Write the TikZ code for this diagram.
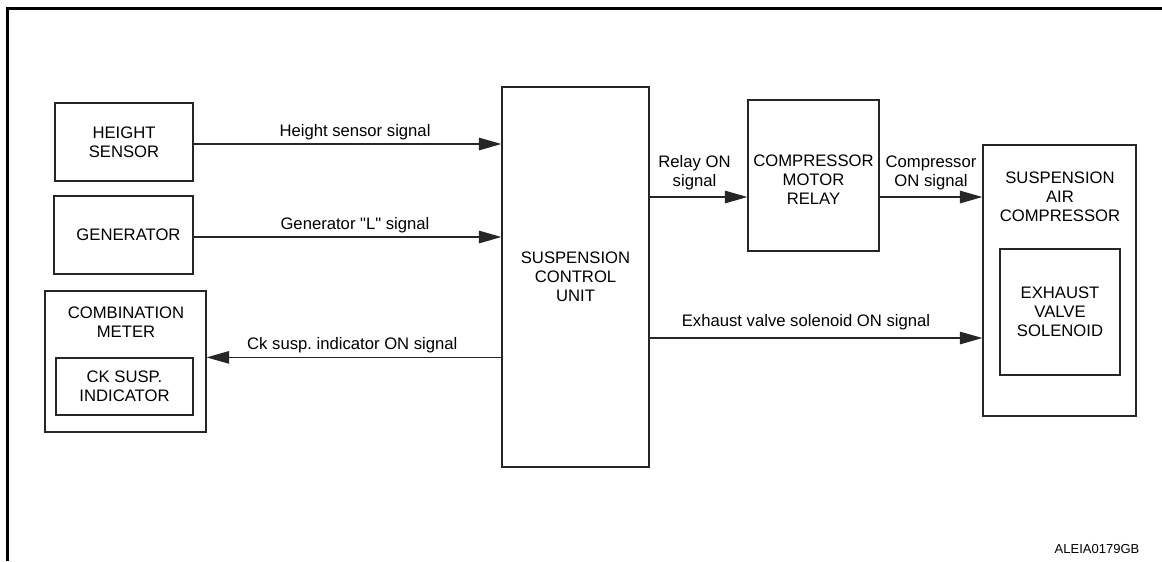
\documentclass[tikz,border=0pt]{standalone}
\usepackage{fontspec}
\setmainfont{Liberation Sans}
\usetikzlibrary{arrows.meta,calc}

\tikzset{
	blk/.style={draw=black!85, line width=0.75pt, inner sep=0pt, align=center, font=\fontsize{10}{11.4}\selectfont},
	sig/.style={draw=black!85, line width=0.75pt, -{Triangle[length=13.5pt,width=7.5pt]}},
	lbl/.style={inner sep=0pt, align=center, font=\fontsize{10}{11.4}\selectfont}
}

\begin{document}
\frenchspacing
\begin{tikzpicture}[x=0.6pt,y=-0.6pt]
	
	\useasboundingbox (0,0) rectangle (1162,561);
	
	% draw outline
	\draw[line width=1.8pt] (6,8.5) -- (1162,8.5);
	\draw[line width=1.8pt] (7.5,8.5) -- (7.5,561);
	
	% left side units
	\node[blk, minimum width=138*0.6pt, minimum height=78*0.6pt] (hs) at (124,142) {HEIGHT\\SENSOR};
	\node[blk, minimum width=139*0.6pt, minimum height=78*0.6pt] (gen) at (123.5,235) {\hspace*{6pt}GENERATOR};
	\node[blk, minimum width=161*0.6pt, minimum height=141*0.6pt] (cm) at (125.5,361.5) {};
	\node[lbl] (cmt) at (126,322) {COMBINATION\\METER};
	\node[blk, minimum width=137*0.6pt, minimum height=57*0.6pt] (ck) at (124.5,386.5) {CK SUSP.\\INDICATOR};
	
	% control unit
	\node[blk, minimum width=147*0.6pt, minimum height=380*0.6pt] (scu) at (575.5,277) {SUSPENSION\\CONTROL\\UNIT};
	
	% right side units
	\node[blk, minimum width=131*0.6pt, minimum height=151*0.6pt] (relay) at (813.5,175.5) {};
	\node[lbl] (relayt) at (813.5,180) {COMPRESSOR\\MOTOR\\RELAY};
	\node[blk, minimum width=153*0.6pt, minimum height=271*0.6pt] (sac) at (1059.5,280.5) {};
	\node[lbl] (sact) at (1060,197) {SUSPENSION\\AIR\\COMPRESSOR};
	\node[blk, minimum width=120*0.6pt, minimum height=126*0.6pt] (exh) at (1060,312) {EXHAUST\\VALVE\\SOLENOID};
	
	% signal rows
	\coordinate (rly) at (700,197);
	\coordinate (exy) at (800,338);
	
	% signals
	\draw[sig] ([yshift=-2*0.6pt]hs.east) -- ([yshift=-2*0.6pt]hs.east -| scu.west)
		node[lbl, midway, above=2.2pt, xshift=4.5pt] (hsl) {Height sensor signal};
	\draw[sig] ([yshift=-2*0.6pt]gen.east) -- ([yshift=-2*0.6pt]gen.east -| scu.west)
		node[lbl, midway, above=2.2pt, xshift=4.5pt] (genl) {Generator \textquotedbl L\textquotedbl\ signal};
	\draw[sig] (scu.west |- ck.north) -- (cm.east |- ck.north)
		node[lbl, midway, above=2.2pt, xshift=-1pt] (ckl) {Ck susp. indicator ON signal};
	\draw[sig] (scu.east |- rly) -- (relay.west |- rly)
		node[lbl, midway, above=4pt, xshift=-2.4pt] (rlyl) {Relay ON\\signal};
	\draw[sig] (relay.east |- rly) -- (sac.west |- rly)
		node[lbl, midway, above=4pt] (cmpl) {Compressor\\ON signal};
	\draw[sig] (scu.east |- exy) -- (sac.west |- exy)
		node[lbl, midway, above=4.4pt, xshift=-6pt] (exhl) {Exhaust valve solenoid ON signal};
	
	% figure code
	\node[lbl, font=\fontsize{7.8}{9}\selectfont] (code) at (1097,549) {ALEIA0179GB};
	
\end{tikzpicture}
\end{document}
